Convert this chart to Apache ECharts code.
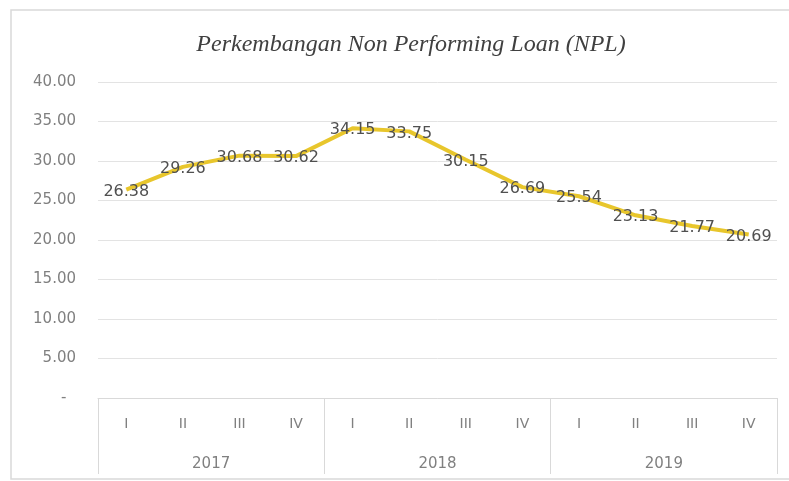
<!DOCTYPE html>
<html>
<head>
<meta charset="utf-8">
<style>
  html, body { margin: 0; padding: 0; background: #fff; }
  #chart { width: 789px; height: 481px; }
</style>
<script src="https://cdn.jsdelivr.net/npm/echarts@6/dist/echarts.min.js"></script>
</head>
<body>
<div id="chart"></div>
<script>
// NPL by quarter, 2017–2019
const quarters = ['I', 'II', 'III', 'IV', 'I', 'II', 'III', 'IV', 'I', 'II', 'III', 'IV'];
const years = ['2017', '2018', '2019'];
const npl = [26.38, 29.26, 30.68, 30.62, 34.15, 33.75, 30.15, 26.69, 25.54, 23.13, 21.77, 20.69];

const axisFont = '"DejaVu Sans", sans-serif';
const chart = echarts.init(document.getElementById('chart'));

chart.setOption({
  backgroundColor: '#ffffff',
  animation: false,
  title: {
    text: 'Perkembangan Non Performing Loan (NPL)',
    left: 406,
    textAlign: 'center',
    top: 28,
    textStyle: {
      fontFamily: '"Liberation Serif", serif',
      fontStyle: 'italic',
      fontWeight: 'normal',
      fontSize: 24,
      color: '#404040'
    }
  },
  graphic: [{
    type: 'rect',
    shape: { x: 11, y: 10, width: 790, height: 469 },
    style: { fill: 'none', stroke: '#d9d9d9', lineWidth: 1.5 },
    silent: true
  }],
  grid: { left: 98, right: 12, top: 82, bottom: 83 },
  xAxis: [{
    type: 'category',
    data: quarters,
    boundaryGap: true,
    axisLine: { show: true, lineStyle: { color: '#d9d9d9', width: 1 } },
    axisTick: { show: false },
    axisLabel: {
      color: '#808080',
      fontFamily: axisFont,
      fontSize: 14,
      margin: 19,
      interval: 0
    }
  }, {
    type: 'category',
    data: years,
    position: 'bottom',
    boundaryGap: true,
    axisLine: { show: false },
    axisTick: { show: true, length: 76, lineStyle: { color: '#d9d9d9', width: 1 } },
    axisLabel: {
      color: '#808080',
      fontFamily: axisFont,
      fontSize: 15,
      margin: 59
    }
  }],
  yAxis: {
    type: 'value',
    min: 0,
    max: 40,
    interval: 5,
    axisLine: { show: false },
    axisTick: { show: false },
    splitLine: { lineStyle: { color: '#e3e3e3', width: 1 } },
    axisLabel: {
      color: '#808080',
      fontFamily: axisFont,
      fontSize: 15,
      margin: 22,
      formatter: v => (v === 0 ? '-\u2007' : v.toFixed(2))
    }
  },
  series: [{
    type: 'line',
    xAxisIndex: 0,
    data: npl,
    symbol: 'circle',
    symbolSize: 0,
    showSymbol: true,
    lineStyle: { color: '#e8c62c', width: 4 },
    itemStyle: { color: '#e8c62c' },
    label: {
      show: true,
      position: 'inside',
      offset: [0, 2],
      formatter: p => p.value.toFixed(2),
      color: '#505050',
      fontFamily: axisFont,
      fontSize: 16
    },
    z: 3
  }]
});
</script>
</body>
</html>
